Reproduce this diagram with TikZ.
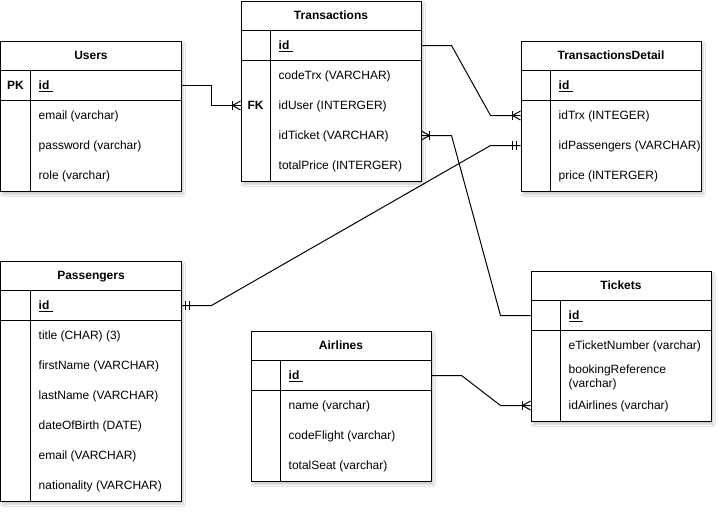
\documentclass[tikz,border=0pt]{standalone}
\usepackage{fontspec}
\setmainfont{Liberation Sans}
\usetikzlibrary{calc,shadows.blur}
\tikzset{
  x=1pt, y=-1pt,
  tablebox/.style={draw, line width=1pt, fill=white, anchor=north west, inner sep=0pt,
    blur shadow={shadow xshift=2pt, shadow yshift=-3pt, shadow opacity=22, shadow blur radius=2pt}},
  tableline/.style={line width=1pt},
  titletext/.style={font=\fontsize{12}{14}\selectfont\bfseries, inner sep=0pt, text height=9pt, text depth=1.5pt},
  keytext/.style={font=\fontsize{12}{14}\selectfont\bfseries, inner sep=0pt, text height=9pt, text depth=1.5pt},
  fieldtext/.style={font=\fontsize{12}{14}\selectfont, anchor=west, inner sep=0pt, text height=9pt, text depth=1.5pt},
  wraptext/.style={font=\fontsize{12}{14}\selectfont, anchor=west, inner sep=0pt, align=left},
  conn/.style={line width=1pt},
  pics/onemany/.style={code={
    \draw[conn] ({-8*(#1)},-4.5) -- ({-8*(#1)},4.5);
    \draw[conn] (0,-4.5) -- ({-8*(#1)},0) -- (0,4.5);
  }},
  pics/onemany/.default=1,
  pics/onlyone/.style={code={
    \draw[conn] ({-8*(#1)},-4.5) -- ({-8*(#1)},4.5);
    \draw[conn] ({-4*(#1)},-4.5) -- ({-4*(#1)},4.5);
  }},
  pics/onlyone/.default=1,
}
\newcommand{\ertable}[6]{%
  \node[tablebox, minimum width=#4pt, minimum height=#5pt] (#1) at (#2,#3) {};
  \node[titletext] (#1-title) at ($(#1.north)+(0,15)$) {#6};
  \draw[tableline] ($(#1.north west)+(0,30)$) -- ($(#1.north east)+(0,30)$);
  \draw[tableline] ($(#1.north west)+(0,60)$) -- ($(#1.north east)+(0,60)$);
  \draw[tableline] ($(#1.north west)+(30,30)$) -- ($(#1.south west)+(30,0)$);
}
\newcommand{\idtext}{\underline{id\ }}
\begin{document}
\begin{tikzpicture}
\fill[white] (-0.5,-0.5) rectangle (721.5,511.5);
\useasboundingbox (-0.5,-0.5) rectangle (721.5,511.5);

% Users
\ertable{users}{0}{40}{180}{150}{Users}
\node[keytext] (users-pk) at (15,85) {PK};
\node[fieldtext] (users-id) at (38,85) {\bfseries\idtext};
\node[fieldtext] (users-email) at (38,115) {email (varchar)};
\node[fieldtext] (users-password) at (38,145) {password (varchar)};
\node[fieldtext] (users-role) at (38,175) {role (varchar)};

% Transactions
\ertable{trx}{240}{0}{180}{180}{Transactions}
\node[keytext] (trx-fk) at (255,105) {FK};
\node[fieldtext] (trx-id) at (278,45) {\bfseries\idtext};
\node[fieldtext] (trx-codetrx) at (278,75) {codeTrx (VARCHAR)};
\node[fieldtext] (trx-iduser) at (278,105) {idUser (INTERGER)};
\node[fieldtext] (trx-idticket) at (278,135) {idTicket (VARCHAR)};
\node[fieldtext] (trx-totalprice) at (278,165) {totalPrice (INTERGER)};

% TransactionsDetail
\ertable{td}{520}{40}{180}{150}{TransactionsDetail}
\node[fieldtext] (td-id) at (558,85) {\bfseries\idtext};
\node[fieldtext] (td-idtrx) at (558,115) {idTrx (INTEGER)};
\node[fieldtext] (td-idpass) at (558,145) {idPassengers (VARCHAR)};
\node[fieldtext] (td-price) at (558,175) {price (INTERGER)};

% Passengers
\ertable{pass}{0}{260}{180}{240}{Passengers}
\node[fieldtext] (pass-id) at (38,305) {\bfseries\idtext};
\node[fieldtext] (pass-title) at (38,335) {title (CHAR) (3)};
\node[fieldtext] (pass-first) at (38,365) {firstName (VARCHAR)};
\node[fieldtext] (pass-last) at (38,395) {lastName (VARCHAR)};
\node[fieldtext] (pass-dob) at (38,425) {dateOfBirth (DATE)};
\node[fieldtext] (pass-email) at (38,455) {email (VARCHAR)};
\node[fieldtext] (pass-nat) at (38,485) {nationality (VARCHAR)};

% Airlines
\ertable{air}{250}{330}{180}{150}{Airlines}
\node[fieldtext] (air-id) at (288,375) {\bfseries\idtext};
\node[fieldtext] (air-name) at (288,405) {name (varchar)};
\node[fieldtext] (air-code) at (288,435) {codeFlight (varchar)};
\node[fieldtext] (air-seat) at (288,465) {totalSeat (varchar)};

% Tickets
\ertable{tk}{530}{270}{180}{150}{Tickets}
\node[fieldtext] (tk-id) at (568,315) {\bfseries\idtext};
\node[fieldtext] (tk-eticket) at (568,345) {eTicketNumber (varchar)};
\node[wraptext] (tk-booking) at (568,376.5) {bookingReference\\(varchar)};
\node[fieldtext] (tk-idair) at (568,405) {idAirlines (varchar)};

% connection points
\coordinate (c1a) at (users.east |- users-id);
\coordinate (c1b) at (trx.west |- trx-iduser);
\coordinate (c2a) at (trx.east |- trx-id);
\coordinate (c2b) at (td.west |- td-idtrx);
\coordinate (c3a) at (pass.east |- pass-id);
\coordinate (c3b) at (td.west |- td-idpass);
\coordinate (c4a) at (trx.east |- trx-idticket);
\coordinate (c4b) at (tk.west |- tk-id);
\coordinate (c5a) at (air.east |- air-id);
\coordinate (c5b) at (tk.west |- tk-idair);

% connectors
\draw[conn] (c1a) -- ++(30,0) |- (c1b);
\pic at (c1b) {onemany};
\draw[conn] (c2a) -- ++(30,0) -- ($(c2b)+(-30,0)$) -- (c2b);
\pic at (c2b) {onemany};
\draw[conn] (c3a) -- ++(30,0) -- ($(c3b)+(-30,0)$) -- (c3b);
\pic at (c3a) {onlyone=-1};
\pic at (c3b) {onlyone};
\draw[conn] (c4a) -- ++(30,0) -- ($(c4b)+(-30,0)$) -- (c4b);
\pic at (c4a) {onemany=-1};
\draw[conn] (c5a) -- ++(30,0) -- ($(c5b)+(-30,0)$) -- (c5b);
\pic at (c5b) {onemany};
\end{tikzpicture}
\end{document}
